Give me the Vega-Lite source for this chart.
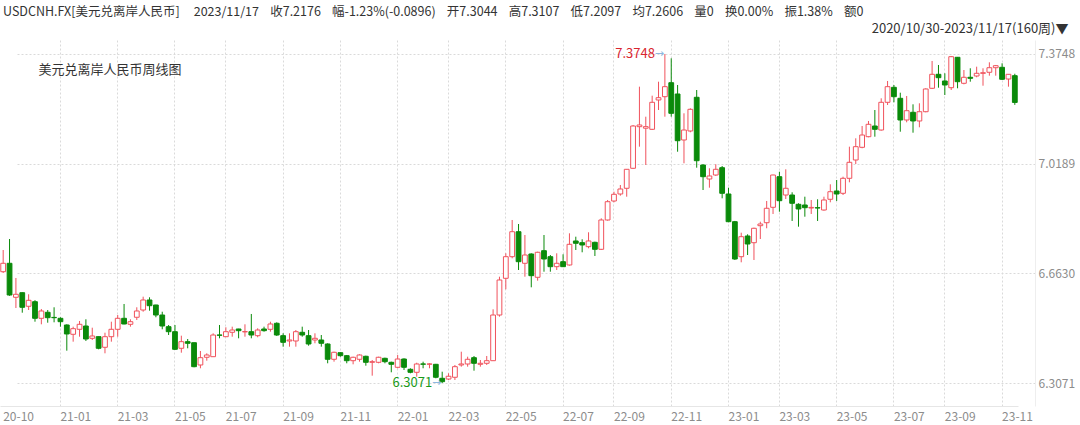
{
  "$schema": "https://vega.github.io/schema/vega-lite/v6.json",
  "width": 1035,
  "height": 366,
  "autosize": {"type": "none"},
  "padding": {"left": 0, "top": 40, "right": 45, "bottom": 19},
  "background": "#ffffff",
  "config": {"view": {"stroke": null}, "font": "Noto Sans CJK SC"},
  "title": {
    "text": "USDCNH.FX[美元兑离岸人民币] \u00a0\u00a0\u00a0\u00a02023/11/17 \u00a0\u00a0\u00a0收7.2176 \u00a0\u00a0\u00a0幅-1.23%(-0.0896) \u00a0\u00a0\u00a0开7.3044 \u00a0\u00a0\u00a0高7.3107 \u00a0\u00a0\u00a0低7.2097 \u00a0\u00a0\u00a0均7.2606 \u00a0\u00a0\u00a0量0 \u00a0\u00a0\u00a0换0.00% \u00a0\u00a0\u00a0振1.38% \u00a0\u00a0\u00a0额0",
    "anchor": "start",
    "frame": "group",
    "dx": 3,
    "offset": -9,
    "baseline": "bottom",
    "fontSize": 12.5,
    "fontWeight": "normal",
    "color": "#333333",
    "font": "Noto Sans CJK SC"
  },
  "datasets": {
    "k": [
      {"d":"2020-10-30","o":6.6683,"h":6.7387,"l":6.6641,"c":6.6956},
      {"d":"2020-11-06","o":6.6956,"h":6.7744,"l":6.5900,"c":6.5927},
      {"d":"2020-11-13","o":6.5853,"h":6.6479,"l":6.5505,"c":6.5950},
      {"d":"2020-11-20","o":6.6002,"h":6.6010,"l":6.5353,"c":6.5528},
      {"d":"2020-11-27","o":6.5561,"h":6.5950,"l":6.5440,"c":6.5755},
      {"d":"2020-12-04","o":6.5710,"h":6.5760,"l":6.5061,"c":6.5171},
      {"d":"2020-12-11","o":6.5171,"h":6.5473,"l":6.4976,"c":6.5408},
      {"d":"2020-12-18","o":6.5366,"h":6.5440,"l":6.5028,"c":6.5191},
      {"d":"2020-12-25","o":6.5200,"h":6.5528,"l":6.5041,"c":6.5190},
      {"d":"2021-01-01","o":6.5171,"h":6.5204,"l":6.4899,"c":6.5061},
      {"d":"2021-01-08","o":6.4954,"h":6.4976,"l":6.4120,"c":6.4662},
      {"d":"2021-01-15","o":6.4652,"h":6.4899,"l":6.4412,"c":6.4834},
      {"d":"2021-01-22","o":6.4814,"h":6.5084,"l":6.4574,"c":6.4976},
      {"d":"2021-01-29","o":6.4921,"h":6.5139,"l":6.4435,"c":6.4499},
      {"d":"2021-02-05","o":6.4522,"h":6.4866,"l":6.4467,"c":6.4597},
      {"d":"2021-02-12","o":6.4575,"h":6.4580,"l":6.4165,"c":6.4198},
      {"d":"2021-02-19","o":6.4230,"h":6.4704,"l":6.4035,"c":6.4574},
      {"d":"2021-02-26","o":6.4574,"h":6.5061,"l":6.4412,"c":6.4814},
      {"d":"2021-03-05","o":6.4814,"h":6.5278,"l":6.4574,"c":6.5171},
      {"d":"2021-03-12","o":6.5171,"h":6.5635,"l":6.4976,"c":6.4986},
      {"d":"2021-03-19","o":6.4976,"h":6.5139,"l":6.4899,"c":6.5061},
      {"d":"2021-03-26","o":6.5204,"h":6.5528,"l":6.5116,"c":6.5408},
      {"d":"2021-04-02","o":6.5440,"h":6.5872,"l":6.5385,"c":6.5765},
      {"d":"2021-04-09","o":6.5765,"h":6.5853,"l":6.5418,"c":6.5580},
      {"d":"2021-04-16","o":6.5603,"h":6.5610,"l":6.5204,"c":6.5278},
      {"d":"2021-04-23","o":6.5278,"h":6.5385,"l":6.4814,"c":6.4921},
      {"d":"2021-04-30","o":6.4899,"h":6.4954,"l":6.4629,"c":6.4736},
      {"d":"2021-05-07","o":6.4736,"h":6.4954,"l":6.4142,"c":6.4165},
      {"d":"2021-05-14","o":6.4198,"h":6.4607,"l":6.4055,"c":6.4412},
      {"d":"2021-05-21","o":6.4412,"h":6.4499,"l":6.4198,"c":6.4360},
      {"d":"2021-05-28","o":6.4379,"h":6.4380,"l":6.3581,"c":6.3601},
      {"d":"2021-06-04","o":6.3656,"h":6.4110,"l":6.3549,"c":6.3893},
      {"d":"2021-06-11","o":6.3906,"h":6.4035,"l":6.3795,"c":6.3980},
      {"d":"2021-06-18","o":6.3925,"h":6.4684,"l":6.3920,"c":6.4629},
      {"d":"2021-06-25","o":6.4630,"h":6.4954,"l":6.4522,"c":6.4620},
      {"d":"2021-07-02","o":6.4574,"h":6.4879,"l":6.4570,"c":6.4736},
      {"d":"2021-07-09","o":6.4717,"h":6.4899,"l":6.4574,"c":6.4791},
      {"d":"2021-07-16","o":6.4824,"h":6.4830,"l":6.4522,"c":6.4769},
      {"d":"2021-07-23","o":6.4730,"h":6.4976,"l":6.4574,"c":6.4740},
      {"d":"2021-07-30","o":6.4736,"h":6.5311,"l":6.4522,"c":6.4629},
      {"d":"2021-08-06","o":6.4607,"h":6.4847,"l":6.4555,"c":6.4791},
      {"d":"2021-08-13","o":6.4824,"h":6.4899,"l":6.4736,"c":6.4769},
      {"d":"2021-08-20","o":6.4814,"h":6.5061,"l":6.4736,"c":6.4986},
      {"d":"2021-08-27","o":6.5009,"h":6.5041,"l":6.4597,"c":6.4629},
      {"d":"2021-09-03","o":6.4607,"h":6.4684,"l":6.4250,"c":6.4392},
      {"d":"2021-09-10","o":6.4435,"h":6.4684,"l":6.4250,"c":6.4467},
      {"d":"2021-09-17","o":6.4435,"h":6.4791,"l":6.4250,"c":6.4736},
      {"d":"2021-09-24","o":6.4717,"h":6.4899,"l":6.4574,"c":6.4629},
      {"d":"2021-10-01","o":6.4607,"h":6.4791,"l":6.4282,"c":6.4337},
      {"d":"2021-10-08","o":6.4467,"h":6.4684,"l":6.4360,"c":6.4522},
      {"d":"2021-10-15","o":6.4467,"h":6.4629,"l":6.4250,"c":6.4360},
      {"d":"2021-10-22","o":6.4337,"h":6.4360,"l":6.3711,"c":6.3841},
      {"d":"2021-10-29","o":6.3841,"h":6.4087,"l":6.3763,"c":6.4068},
      {"d":"2021-11-05","o":6.4055,"h":6.4068,"l":6.3925,"c":6.3958},
      {"d":"2021-11-12","o":6.3958,"h":6.3980,"l":6.3711,"c":6.3795},
      {"d":"2021-11-19","o":6.3795,"h":6.3925,"l":6.3678,"c":6.3906},
      {"d":"2021-11-26","o":6.3841,"h":6.4003,"l":6.3763,"c":6.3980},
      {"d":"2021-12-03","o":6.3938,"h":6.3958,"l":6.3633,"c":6.3743},
      {"d":"2021-12-10","o":6.3743,"h":6.3818,"l":6.3309,"c":6.3763},
      {"d":"2021-12-17","o":6.3743,"h":6.3925,"l":6.3711,"c":6.3906},
      {"d":"2021-12-24","o":6.3873,"h":6.3893,"l":6.3711,"c":6.3763},
      {"d":"2021-12-31","o":6.3743,"h":6.3763,"l":6.3419,"c":6.3678},
      {"d":"2022-01-07","o":6.3581,"h":6.3980,"l":6.3549,"c":6.3850},
      {"d":"2022-01-14","o":6.3850,"h":6.3873,"l":6.3493,"c":6.3581},
      {"d":"2022-01-21","o":6.3516,"h":6.3549,"l":6.3386,"c":6.3419},
      {"d":"2022-01-28","o":6.3419,"h":6.3730,"l":6.3276,"c":6.3688},
      {"d":"2022-02-04","o":6.3690,"h":6.3763,"l":6.3549,"c":6.3680},
      {"d":"2022-02-11","o":6.3680,"h":6.3711,"l":6.3549,"c":6.3690},
      {"d":"2022-02-18","o":6.3678,"h":6.3690,"l":6.3224,"c":6.3257},
      {"d":"2022-02-25","o":6.3224,"h":6.3438,"l":6.3071,"c":6.3114},
      {"d":"2022-03-04","o":6.3200,"h":6.3386,"l":6.3169,"c":6.3290},
      {"d":"2022-03-11","o":6.3257,"h":6.3656,"l":6.3169,"c":6.3601},
      {"d":"2022-03-18","o":6.3656,"h":6.4087,"l":6.3601,"c":6.3688},
      {"d":"2022-03-25","o":6.3688,"h":6.3925,"l":6.3601,"c":6.3841},
      {"d":"2022-04-01","o":6.3893,"h":6.3948,"l":6.3471,"c":6.3711},
      {"d":"2022-04-08","o":6.3678,"h":6.3818,"l":6.3601,"c":6.3711},
      {"d":"2022-04-15","o":6.3711,"h":6.3948,"l":6.3656,"c":6.3795},
      {"d":"2022-04-22","o":6.3795,"h":6.5463,"l":6.3790,"c":6.5278},
      {"d":"2022-04-29","o":6.5278,"h":6.6521,"l":6.5223,"c":6.6414},
      {"d":"2022-05-06","o":6.6469,"h":6.7280,"l":6.6112,"c":6.7170},
      {"d":"2022-05-13","o":6.7170,"h":6.8361,"l":6.7118,"c":6.7981},
      {"d":"2022-05-20","o":6.7981,"h":6.8231,"l":6.6738,"c":6.7008},
      {"d":"2022-05-27","o":6.6956,"h":6.7874,"l":6.6521,"c":6.7225},
      {"d":"2022-06-03","o":6.7258,"h":6.7280,"l":6.6177,"c":6.6554},
      {"d":"2022-06-10","o":6.6502,"h":6.7332,"l":6.6391,"c":6.7313},
      {"d":"2022-06-17","o":6.7365,"h":6.7874,"l":6.6683,"c":6.7095},
      {"d":"2022-06-24","o":6.7170,"h":6.7225,"l":6.6683,"c":6.6846},
      {"d":"2022-07-01","o":6.6846,"h":6.7280,"l":6.6738,"c":6.6956},
      {"d":"2022-07-08","o":6.7008,"h":6.7248,"l":6.6840,"c":6.6846},
      {"d":"2022-07-15","o":6.6901,"h":6.7929,"l":6.6880,"c":6.7572},
      {"d":"2022-07-22","o":6.7680,"h":6.7819,"l":6.7387,"c":6.7605},
      {"d":"2022-07-29","o":6.7625,"h":6.7735,"l":6.7313,"c":6.7550},
      {"d":"2022-08-05","o":6.7495,"h":6.7962,"l":6.7443,"c":6.7680},
      {"d":"2022-08-12","o":6.7637,"h":6.7657,"l":6.7193,"c":6.7410},
      {"d":"2022-08-19","o":6.7410,"h":6.8416,"l":6.7387,"c":6.8361},
      {"d":"2022-08-26","o":6.8361,"h":6.9010,"l":6.8340,"c":6.8955},
      {"d":"2022-09-02","o":6.8977,"h":6.9279,"l":6.8935,"c":6.9195},
      {"d":"2022-09-09","o":6.9205,"h":6.9497,"l":6.9150,"c":6.9367},
      {"d":"2022-09-16","o":6.9390,"h":7.0010,"l":6.9117,"c":7.0006},
      {"d":"2022-09-23","o":7.0039,"h":7.1444,"l":7.0016,"c":7.1411},
      {"d":"2022-09-30","o":7.1389,"h":7.2687,"l":7.0740,"c":7.1444},
      {"d":"2022-10-07","o":7.1340,"h":7.1713,"l":7.0146,"c":7.1390},
      {"d":"2022-10-14","o":7.1304,"h":7.2395,"l":7.1281,"c":7.2180},
      {"d":"2022-10-21","o":7.2255,"h":7.2849,"l":7.1930,"c":7.2330},
      {"d":"2022-10-28","o":7.2362,"h":7.3748,"l":7.1713,"c":7.2687},
      {"d":"2022-11-04","o":7.2816,"h":7.3608,"l":7.1713,"c":7.1823},
      {"d":"2022-11-11","o":7.2450,"h":7.2742,"l":7.0577,"c":7.0934},
      {"d":"2022-11-18","o":7.0957,"h":7.1823,"l":7.0201,"c":7.1281},
      {"d":"2022-11-25","o":7.1249,"h":7.1986,"l":7.1207,"c":7.1953},
      {"d":"2022-12-02","o":7.2343,"h":7.2579,"l":7.0058,"c":7.0285},
      {"d":"2022-12-09","o":7.0146,"h":7.0170,"l":6.9334,"c":6.9766},
      {"d":"2022-12-16","o":6.9691,"h":7.0039,"l":6.9409,"c":6.9789},
      {"d":"2022-12-23","o":6.9821,"h":7.0170,"l":6.9790,"c":7.0006},
      {"d":"2022-12-30","o":7.0058,"h":7.0113,"l":6.9065,"c":6.9227},
      {"d":"2023-01-06","o":6.9205,"h":6.9409,"l":6.8290,"c":6.8306},
      {"d":"2023-01-13","o":6.8306,"h":6.8330,"l":6.7063,"c":6.7095},
      {"d":"2023-01-20","o":6.7170,"h":6.7949,"l":6.6988,"c":6.7819},
      {"d":"2023-01-27","o":6.7842,"h":6.7897,"l":6.7225,"c":6.7582},
      {"d":"2023-02-03","o":6.7624,"h":6.8111,"l":6.7063,"c":6.8092},
      {"d":"2023-02-10","o":6.8176,"h":6.8306,"l":6.7744,"c":6.8231},
      {"d":"2023-02-17","o":6.8273,"h":6.8978,"l":6.8092,"c":6.8741},
      {"d":"2023-02-24","o":6.8773,"h":6.9830,"l":6.8556,"c":6.9821},
      {"d":"2023-03-03","o":6.9766,"h":6.9928,"l":6.8630,"c":6.8987},
      {"d":"2023-03-10","o":6.9172,"h":7.0006,"l":6.9042,"c":6.9390},
      {"d":"2023-03-17","o":6.9172,"h":6.9260,"l":6.8329,"c":6.8903},
      {"d":"2023-03-24","o":6.8870,"h":6.8903,"l":6.8144,"c":6.8718},
      {"d":"2023-03-31","o":6.8848,"h":6.9117,"l":6.8468,"c":6.8760},
      {"d":"2023-04-07","o":6.8750,"h":6.9010,"l":6.8556,"c":6.8770},
      {"d":"2023-04-14","o":6.8760,"h":6.9033,"l":6.8329,"c":6.8750},
      {"d":"2023-04-21","o":6.8685,"h":6.9117,"l":6.8663,"c":6.9010},
      {"d":"2023-04-28","o":6.9033,"h":6.9519,"l":6.8935,"c":6.9279},
      {"d":"2023-05-05","o":6.9302,"h":6.9659,"l":6.8978,"c":6.9205},
      {"d":"2023-05-12","o":6.9227,"h":6.9766,"l":6.9172,"c":6.9714},
      {"d":"2023-05-19","o":6.9714,"h":7.0740,"l":6.9584,"c":7.0233},
      {"d":"2023-05-26","o":7.0308,"h":7.1012,"l":7.0178,"c":7.0740},
      {"d":"2023-06-02","o":7.0720,"h":7.1411,"l":7.0688,"c":7.1119},
      {"d":"2023-06-09","o":7.1064,"h":7.1574,"l":7.1045,"c":7.1466},
      {"d":"2023-06-16","o":7.1411,"h":7.1930,"l":7.1064,"c":7.1304},
      {"d":"2023-06-23","o":7.1281,"h":7.2310,"l":7.1260,"c":7.2180},
      {"d":"2023-06-30","o":7.2180,"h":7.2872,"l":7.2093,"c":7.2687},
      {"d":"2023-07-07","o":7.2667,"h":7.2742,"l":7.2180,"c":7.2362},
      {"d":"2023-07-14","o":7.2310,"h":7.2492,"l":7.1226,"c":7.1606},
      {"d":"2023-07-21","o":7.1606,"h":7.2385,"l":7.1531,"c":7.1908},
      {"d":"2023-07-28","o":7.1856,"h":7.2115,"l":7.1194,"c":7.1574},
      {"d":"2023-08-04","o":7.1574,"h":7.2148,"l":7.1369,"c":7.1875},
      {"d":"2023-08-11","o":7.1875,"h":7.2635,"l":7.1856,"c":7.2612},
      {"d":"2023-08-18","o":7.2635,"h":7.3521,"l":7.2612,"c":7.3089},
      {"d":"2023-08-25","o":7.3089,"h":7.3391,"l":7.2654,"c":7.2979},
      {"d":"2023-09-01","o":7.2872,"h":7.3121,"l":7.2417,"c":7.2742},
      {"d":"2023-09-08","o":7.2654,"h":7.3683,"l":7.2579,"c":7.3660},
      {"d":"2023-09-15","o":7.3641,"h":7.3650,"l":7.2635,"c":7.2849},
      {"d":"2023-09-22","o":7.2797,"h":7.3228,"l":7.2764,"c":7.2992},
      {"d":"2023-09-29","o":7.2992,"h":7.3284,"l":7.2849,"c":7.2959},
      {"d":"2023-10-06","o":7.3034,"h":7.3336,"l":7.2992,"c":7.3121},
      {"d":"2023-10-13","o":7.3120,"h":7.3284,"l":7.2719,"c":7.3140},
      {"d":"2023-10-20","o":7.3154,"h":7.3478,"l":7.3044,"c":7.3303},
      {"d":"2023-10-27","o":7.3303,"h":7.3391,"l":7.3044,"c":7.3368},
      {"d":"2023-11-03","o":7.3316,"h":7.3446,"l":7.2904,"c":7.2927},
      {"d":"2023-11-10","o":7.2936,"h":7.3095,"l":7.2687,"c":7.3089},
      {"d":"2023-11-17","o":7.3044,"h":7.3107,"l":7.2097,"c":7.2176}
    ],
    "ann": [
      {"d":"2022-10-28","v":7.3748,"t":"7.3748","k":"max"},
      {"d":"2022-02-25","v":6.3071,"t":"6.3071","k":"min"}
    ]
  },
  "data": {"name": "k"},
  "encoding": {
    "x": {
      "field": "d",
      "type": "ordinal",
      "scale": {"range": [0, 1018], "paddingInner": 0.25, "paddingOuter": 0.125},
      "axis": {
        "values": ["2020-10-30","2021-01-01","2021-03-05","2021-05-07","2021-07-02","2021-09-03","2021-11-05","2022-01-07","2022-03-04","2022-05-06","2022-07-08","2022-09-02","2022-11-04","2023-01-06","2023-03-03","2023-05-05","2023-07-07","2023-09-01","2023-11-03"],
        "labelExpr": "slice(datum.value, 2, 7)",
        "labelAngle": 0,
        "labelAlign": "left",
        "labelBaseline": "top",
        "labelPadding": 5,
        "labelFontSize": 12,
        "labelColor": "#8c8c8c",
        "labelOverlap": false,
        "labelBound": false,
        "labelFlush": false,
        "ticks": false,
        "grid": true,
        "gridColor": {"condition": {"test": "datum.value == '2020-10-30'", "value": "transparent"}, "value": "#dadada"},
        "gridDash": [2, 2],
        "domainColor": "#e6e6e6",
        "title": "美元兑离岸人民币周线图",
        "titleX": 38,
        "titleY": -337,
        "titleAlign": "left",
        "titleAnchor": null,
        "titleBaseline": "middle",
        "titleFontSize": 13,
        "titleFontWeight": "normal",
        "titleColor": "#333333"
      }
    }
  },
  "layer": [
    {
      "mark": {"type": "rule", "strokeWidth": 1},
      "encoding": {
        "y": {
          "field": "l",
          "type": "quantitative",
          "scale": {"domain": [6.2325, 7.4202], "nice": false, "zero": false},
          "axis": {
            "orient": "right",
            "values": [6.3071, 6.663, 7.0189, 7.3748],
            "format": ".4f",
            "labelFontSize": 12,
            "labelColor": "#8c8c8c",
            "labelPadding": 3,
            "labelBaseline": "middle",
            "ticks": false,
            "grid": true,
            "gridColor": "#dadada",
            "gridDash": [2, 2],
            "domainColor": "#eeeeee",
            "title": "2020/10/30-2023/11/17(160周)▼",
            "titleAngle": 0,
            "titleAlign": "right",
            "titleAnchor": null,
            "titleBaseline": "middle",
            "titleX": 33,
            "titleY": -12,
            "titleFontSize": 13,
            "titleFontWeight": "normal",
            "titleColor": "#333333"
          }
        },
        "y2": {"field": "h"},
        "color": {"condition": {"test": "datum.c >= datum.o", "value": "#f0525c"}, "value": "#0a8a0a"}
      }
    },
    {
      "mark": {"type": "bar", "strokeWidth": 1},
      "encoding": {
        "y": {"field": "o", "type": "quantitative"},
        "y2": {"field": "c"},
        "fill": {"condition": {"test": "datum.c >= datum.o", "value": "#ffffff"}, "value": "#0a8a0a"},
        "stroke": {"condition": {"test": "datum.c >= datum.o", "value": "#f0525c"}, "value": "#0a8a0a"}
      }
    },
    {
      "data": {"name": "ann"},
      "mark": {"type": "text", "align": "right", "baseline": "middle", "dx": -10, "fontSize": 13, "font": "Noto Sans CJK SC"},
      "encoding": {
        "y": {"field": "v", "type": "quantitative"},
        "text": {"field": "t"},
        "color": {"condition": {"test": "datum.k == 'max'", "value": "#d9262f"}, "value": "#1a9a1a"}
      }
    },
    {
      "data": {"name": "ann"},
      "mark": {"type": "text", "align": "right", "baseline": "middle", "dx": -1, "fontSize": 11, "font": "DejaVu Sans", "color": "#8db8e0"},
      "encoding": {
        "y": {"field": "v", "type": "quantitative"},
        "text": {"value": "→"}
      }
    }
  ]
}
